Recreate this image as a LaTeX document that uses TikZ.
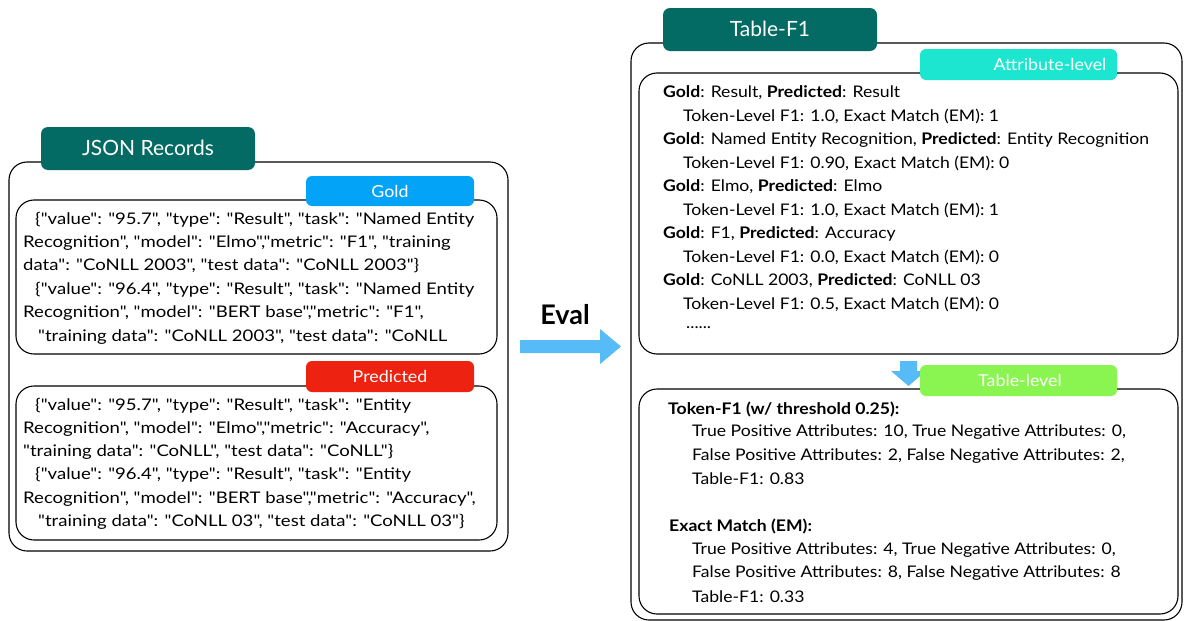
\documentclass[tikz,border=0pt]{standalone}
\usepackage{fontspec}
\setmainfont{Lato}
\newfontfamily\qf{Lato}[FakeStretch=1.1]
\newfontfamily\jf{Lato}[FakeStretch=1.16]
\newfontfamily\lf{Lato}
\newfontfamily\tf{Lato}[FakeStretch=1.08]
\definecolor{teal1}{HTML}{036B63}
\definecolor{goldc}{HTML}{03A4F7}
\definecolor{predc}{HTML}{EE2211}
\definecolor{attrc}{HTML}{1DE6D0}
\definecolor{tablc}{HTML}{8AF550}
\definecolor{arrc}{HTML}{56BBF7}
\tikzset{
  box/.style={draw=black, line width=1.1pt, rounded corners=18pt},
  lbl/.style={text=white, font=\tf\fontsize{16.5}{18}\selectfont},
  ttl/.style={text=white, font=\lf\fontsize{21}{24}\selectfont},
  txt/.style={anchor=west, inner sep=0pt, font=\qf\fontsize{16}{18}\selectfont},
  jtxt/.style={anchor=west, inner sep=0pt, font=\jf\fontsize{16}{18}\selectfont},
}
\begin{document}
\begin{tikzpicture}[x=1pt,y=-1pt]
\useasboundingbox (0,0) rectangle (1184,621);
% left outer
\draw[box] (9,162) rectangle (508,551);
\fill[teal1, rounded corners=7pt] (41,127) rectangle (255,170);
\node[ttl] (jr) at (148,148) {JSON Records};
% gold box
\draw[box] (16,200) rectangle (497,354);
\fill[goldc, rounded corners=6pt] (306,176) rectangle (474,206);
\node[lbl] (gold) at (390,191) {Gold};
\node[jtxt] (g1) at (35,220) {\{"value": "95.7", "type": "Result", "task": "Named Entity};
\node[jtxt] (g2) at (23,243) {Recognition", "model": "Elmo","metric": "F1", "training};
\node[jtxt] (g3) at (23,266) {data": "CoNLL 2003", "test data": "CoNLL 2003"\}};
\node[jtxt] (g4) at (35,290) {\{"value": "96.4", "type": "Result", "task": "Named Entity};
\node[jtxt] (g5) at (23,313) {Recognition", "model": "BERT base","metric": "F1",};
\node[jtxt] (g6) at (38,337) {"training data": "CoNLL 2003", "test data": "CoNLL};
% predicted box
\draw[box] (16,386) rectangle (497,540);
\fill[predc, rounded corners=6pt] (306,361) rectangle (474,392);
\node[lbl] (pred) at (390,376) {Predicted};
\node[jtxt] (p1) at (35,406) {\{"value": "95.7", "type": "Result", "task": "Entity};
\node[jtxt] (p2) at (23,429) {Recognition", "model": "Elmo","metric": "Accuracy",};
\node[jtxt] (p3) at (23,452) {"training data": "CoNLL", "test data": "CoNLL"\}};
\node[jtxt] (p4) at (35,475) {\{"value": "96.4", "type": "Result", "task": "Entity};
\node[jtxt] (p5) at (23,499) {Recognition", "model": "BERT base","metric": "Accuracy",};
\node[jtxt] (p6) at (38,522) {"training data": "CoNLL 03", "test data": "CoNLL 03"\}};
% eval arrow
\node[font=\lf\fontsize{27}{30}\selectfont\bfseries] (eval) at (565,315) {Eval};
\fill[arrc] (520,340) -- (600,340) -- (600,329) -- (621,346.5) -- (600,364) -- (600,353) -- (520,353) -- cycle;
% right outer
\draw[box] (631,43) rectangle (1182,620);
\fill[teal1, rounded corners=7pt] (663,8) rectangle (877,51);
\node[ttl] (tf) at (770,29) {Table-F1};
% attribute box
\draw[box] (639,73) rectangle (1178,354);
\fill[attrc, rounded corners=6pt] (920,49) rectangle (1117,80);
\node[lbl] (attr) at (1050,64) {Attribute-level};
\node[txt] (a1) at (663,93) {\textbf{Gold}: Result, \textbf{Predicted}: Result};
\node[txt] (a2) at (683,116) {Token-Level F1: 1.0, Exact Match (EM): 1};
\node[txt] (a3) at (663,140) {\textbf{Gold}: Named Entity Recognition, \textbf{Predicted}: Entity Recognition};
\node[txt] (a4) at (683,163) {Token-Level F1: 0.90, Exact Match (EM): 0};
\node[txt] (a5) at (663,187) {\textbf{Gold}: Elmo, \textbf{Predicted}: Elmo};
\node[txt] (a6) at (683,210) {Token-Level F1: 1.0, Exact Match (EM): 1};
\node[txt] (a7) at (663,234) {\textbf{Gold}: F1, \textbf{Predicted}: Accuracy};
\node[txt] (a8) at (683,257) {Token-Level F1: 0.0, Exact Match (EM): 0};
\node[txt] (a9) at (663,281) {\textbf{Gold}: CoNLL 2003, \textbf{Predicted}: CoNLL 03};
\node[txt] (a10) at (683,304) {Token-Level F1: 0.5, Exact Match (EM): 0};
\node[txt] (a11) at (686,328) {......};
% down arrow
\fill[arrc] (900,361) -- (917,361) -- (917,371) -- (926,371) -- (908.5,386) -- (891,371) -- (900,371) -- cycle;
% table box
\draw[box] (639,389) rectangle (1178,614);
\fill[tablc, rounded corners=6pt] (920,365) rectangle (1117,396);
\node[lbl] (tl) at (1020,380) {Table-level};
\node[txt] (t1) at (668,409) {\textbf{Token-F1 (w/ threshold 0.25):}};
\node[txt] (t2) at (692,432) {True Positive Attributes: 10, True Negative Attributes: 0,};
\node[txt] (t3) at (692,456) {False Positive Attributes: 2, False Negative Attributes: 2,};
\node[txt] (t4) at (692,479) {Table-F1: 0.83};
\node[txt] (t5) at (669,526) {\textbf{Exact Match (EM):}};
\node[txt] (t6) at (692,550) {True Positive Attributes: 4, True Negative Attributes: 0,};
\node[txt] (t7) at (692,573) {False Positive Attributes: 8, False Negative Attributes: 8};
\node[txt] (t8) at (692,597) {Table-F1: 0.33};
\end{tikzpicture}
\end{document}
